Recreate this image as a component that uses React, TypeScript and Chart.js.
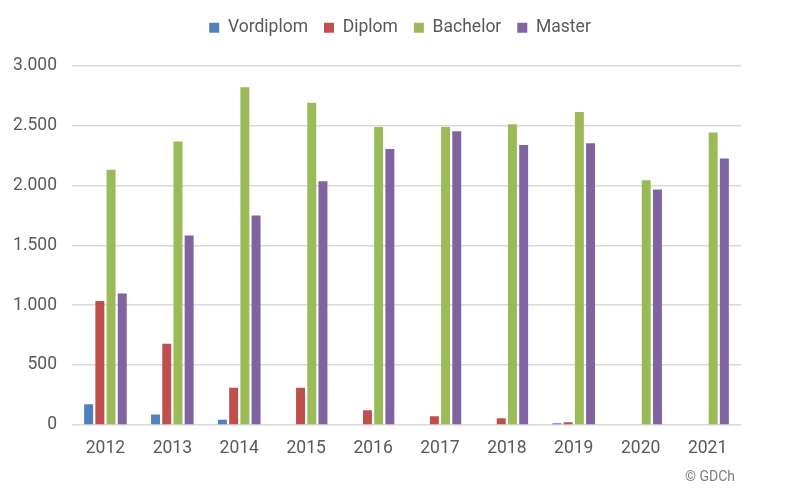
import { useEffect, useRef } from 'react';
import { Chart, registerables } from 'chart.js';

Chart.register(...registerables);

const years = ['2012', '2013', '2014', '2015', '2016', '2017', '2018', '2019', '2020', '2021'];
const vordiplom = [173, 87, 43, 0, 0, 0, 0, 15, 0, 0];
const diplom = [1035, 677, 310, 310, 123, 73, 57, 23, 0, 0];
const bachelor = [2130, 2365, 2818, 2690, 2487, 2487, 2510, 2612, 2043, 2440];
const master = [1098, 1582, 1748, 2035, 2304, 2452, 2337, 2352, 1965, 2224];

const FONT = 'Roboto, "Noto Sans", sans-serif';
const TEXT = '#595959';

const formatDe = (v: number) => String(v).replace(/\B(?=(\d{3})+(?!\d))/g, '.');

// small credit line in the bottom right corner
const creditPlugin = {
  id: 'credit',
  afterDraw(chart: any) {
    const { ctx } = chart;
    ctx.save();
    ctx.font = `14px ${FONT}`;
    ctx.fillStyle = '#7f7f7f';
    ctx.textAlign = 'left';
    ctx.textBaseline = 'middle';
    ctx.fillText('© GDCh', 685, 477);
    ctx.restore();
  },
};

// extra room between legend and plot
const legendSpacer = {
  id: 'legendSpacer',
  beforeInit(chart: any) {
    const fit = chart.legend.fit;
    chart.legend.fit = function () {
      fit.call(this);
      this.height += 19;
    };
  },
};

export default function App() {
  const canvasRef = useRef<HTMLCanvasElement>(null);
  const chartRef = useRef<any>(null);

  useEffect(() => {
    if (!canvasRef.current) return;
    if (chartRef.current) chartRef.current.destroy();

    const ctx = canvasRef.current.getContext('2d');
    if (!ctx) return;

    const bar = { barPercentage: 0.8, categoryPercentage: 0.67 };

    chartRef.current = new Chart(ctx, {
      type: 'bar',
      data: {
        labels: years,
        datasets: [
          { label: 'Vordiplom', data: vordiplom, backgroundColor: '#4F81BD', ...bar },
          { label: 'Diplom', data: diplom, backgroundColor: '#C0504D', ...bar },
          { label: 'Bachelor', data: bachelor, backgroundColor: '#9BBB59', ...bar },
          { label: 'Master', data: master, backgroundColor: '#8064A2', ...bar },
        ],
      },
      options: {
        responsive: true,
        maintainAspectRatio: false,
        animation: false,
        layout: { padding: { top: 3 } },
        plugins: {
          legend: {
            position: 'top',
            labels: {
              boxWidth: 10,
              boxHeight: 10,
              padding: 16,
              color: TEXT,
              font: { family: FONT, size: 17.5 },
            },
          },
          tooltip: { enabled: false },
        },
        scales: {
          x: {
            grid: { display: false },
            border: { display: false },
            ticks: {
              color: TEXT,
              font: { family: FONT, size: 17.5 },
              padding: 5,
            },
            afterFit(scale: any) {
              scale.height = 67;
            },
          },
          y: {
            min: 0,
            max: 3000,
            border: { display: false },
            grid: { color: '#d9d9d9', lineWidth: 1.5, drawTicks: false },
            ticks: {
              stepSize: 500,
              color: TEXT,
              padding: 15,
              font: { family: FONT, size: 17.5 },
              callback: (v: any) => formatDe(Number(v)),
            },
            afterFit(scale: any) {
              scale.width = 72;
            },
          },
          // empty right axis, only reserves the white margin
          yRight: {
            position: 'right',
            grid: { display: false },
            border: { display: false },
            ticks: { display: false },
            afterFit(scale: any) {
              scale.width = 59;
            },
          },
        },
      },
      plugins: [creditPlugin, legendSpacer],
    });

    return () => {
      if (chartRef.current) {
        chartRef.current.destroy();
        chartRef.current = null;
      }
    };
  }, []);

  return (
    <div style={{ position: 'absolute', left: 0, top: 0, width: 800, height: 492, background: '#fff' }}>
      <canvas ref={canvasRef}></canvas>
    </div>
  );
}
